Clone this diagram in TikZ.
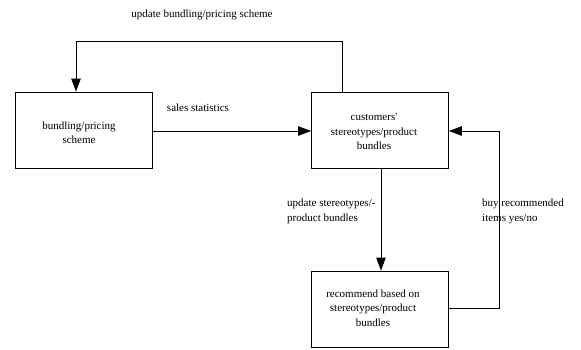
\documentclass[tikz,border=0pt]{standalone}
\usepackage{fontspec}
\setmainfont{Liberation Serif}
\usetikzlibrary{arrows.meta}
\begin{document}
\begin{tikzpicture}[x=1pt,y=-1pt,
  box/.style={draw,line width=0.8pt,minimum width=137pt,minimum height=76pt,inner sep=0pt},
  lbl/.style={font=\fontsize{11}{14.5}\selectfont,inner sep=0pt},
  conn/.style={line width=0.8pt,-{Triangle[length=13pt,width=9.5pt]}},
  plain/.style={line width=0.8pt}]
\useasboundingbox (0,0) rectangle (581,349);
\node[box] (A) at (83.5,130) {};
\node[box] (B) at (380,130) {};
\node[box] (C) at (380,309) {};
\node[lbl,align=center] (At) at (79,132.5) {bundling/pricing\\scheme};
\node[lbl,align=center] (Bt) at (374,131.5) {customers\textquotesingle\\stereotypes/product\\bundles};
\node[lbl,align=center] (Ct) at (373,308) {recommend based on\\stereotypes/product\\bundles};
\node[lbl] (L1) at (202,15) {update bundling/pricing scheme};
\node[lbl] (L2) at (198,108) {sales statistics};
\node[lbl,align=left,anchor=west] (L3) at (287,211.5) {update stereotypes/-\\product bundles};
\node[lbl,align=left,anchor=west] (L4) at (482,211.5) {buy recommended\\items yes/no};
\coordinate (p1) at (342,41);
\coordinate (p2) at (76,41);
\coordinate (q1) at (499,308);
\coordinate (q2) at (499,131);
\draw[conn] (B.north -| p1) -- (p1) -- (p2) -- (A.north -| p2);
\draw[conn] (A.east |- 0,131) -- (B.west |- 0,131);
\draw[conn] (B.south -| 381,0) -- (C.north -| 381,0);
\draw[conn] (C.east |- q1) -- (q1) -- (q2) -- (B.east |- q2);
\end{tikzpicture}
\end{document}
